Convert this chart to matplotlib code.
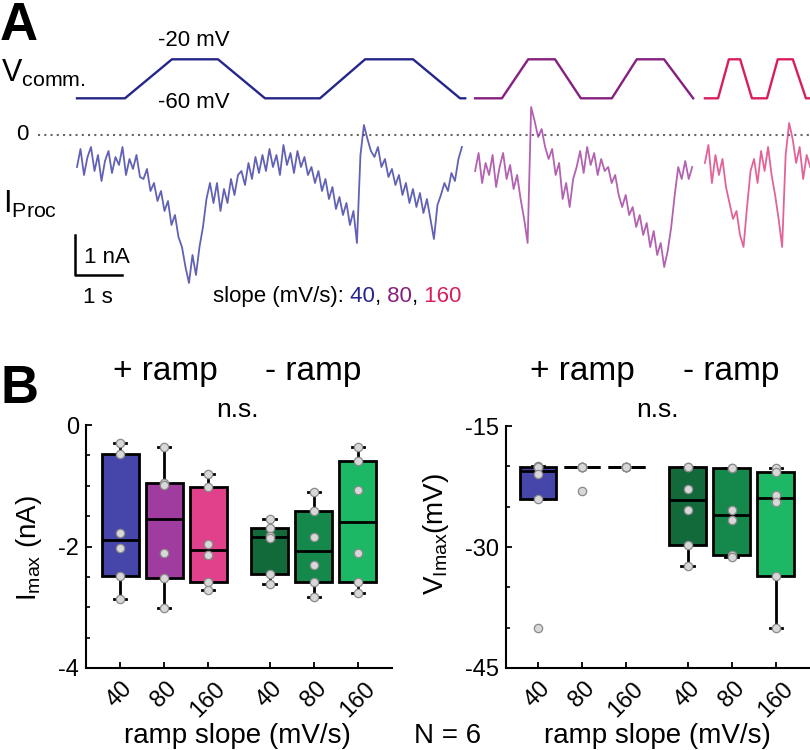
import numpy as np
import matplotlib
matplotlib.use("Agg")
import matplotlib.pyplot as plt

plt.rcParams["font.family"] = ["Liberation Sans", "DejaVu Sans"]
plt.rcParams["mathtext.fontset"] = "custom"
plt.rcParams["mathtext.rm"] = "Liberation Sans"
plt.rcParams["mathtext.it"] = "Liberation Sans:italic"
plt.rcParams["axes.unicode_minus"] = False

# ---------------- data: panel A ----------------
# voltage command breakpoints (s, mV)
vc_t_40 = [0, 1.02, 2.02, 3.0, 4.0, 5.17, 6.13, 7.15, 8.15, 8.26]
vc_v_40 = [-60, -60, -20, -20, -60, -60, -20, -20, -60, -60]
vc_t_80 = [8.47, 9.04, 9.60, 10.17, 10.72, 11.38, 11.91, 12.49, 13.11]
vc_v_80 = [-60, -60, -20, -20, -60, -60, -20, -20, -60]
vc_t_160 = [13.36, 13.64, 13.87, 14.11, 14.36, 14.68, 14.91, 15.23, 15.51, 15.60]
vc_v_160 = [-60, -60, -20, -20, -60, -60, -20, -20, -60, -60]

# current traces (nA), start / end time in s
i_span_40 = (0.0, 8.19)
i_40 = [-0.8, -0.35, -1.0, -0.55, -0.3, -0.9, -0.5, -1.15, -0.65, -0.4,
        -0.95, -0.55, -0.75, -0.3, -1.0, -0.6, -0.85, -0.5, -1.05,
        -1.1, -0.85, -1.4, -1.2, -1.65, -1.4,
        -1.9, -1.65, -2.25, -2.0, -2.55,
        -2.8, -3.3, -3.7, -3.0, -3.5, -2.8, -2.3, -1.6, -1.2,
        -1.7, -1.2, -1.9, -1.35, -1.7, -1.1, -1.5, -1.0,
        -0.9, -1.25, -0.7, -1.1, -0.55, -0.95,
        -0.5, -0.9, -0.35, -0.8, -0.5, -1.0, -0.25, -0.75, -0.45, -0.95,
        -0.4, -0.8, -0.55, -1.0,
        -0.8, -1.2, -0.9, -1.4, -1.1, -1.6, -1.3, -1.85, -1.55,
        -2.0, -1.7, -2.25, -1.9, -2.7,
        -0.5, 0.25, -0.1, -0.4,
        -0.55, -0.3, -0.8, -0.6, -1.05, -0.85,
        -1.25, -1.0, -1.5, -1.2, -1.7, -1.35, -1.8,
        -1.45, -1.95, -1.6, -2.1, -2.6, -1.75,
        -1.5, -1.2, -1.4, -0.95, -1.15, -0.6, -0.3]
i_span_80 = (8.47, 13.09)
i_80 = [-0.9, -0.45, -1.2, -0.7, -1.0, -0.5, -1.3, -0.8, -0.45, -1.1,
        -0.75, -1.35, -1.0,
        -1.6, -2.1, -2.7,
        0.7, 0.35, -0.05, 0.15, -0.3,
        -0.6, -0.35, -1.0, -0.7, -1.6, -1.2, -1.8, -1.1,
        -0.8, -0.4, -0.95, -0.3, -0.75, -0.45, -1.0, -0.6, -0.9,
        -0.8, -1.2, -1.0, -1.5, -1.8, -1.5,
        -2.0, -1.8, -2.3, -2.0, -2.5, -2.2,
        -2.8, -2.4, -3.0, -2.7, -3.3, -2.9,
        -2.3, -1.5, -0.8, -1.1,
        -0.65, -1.1, -0.8]
i_span_160 = (13.36, 15.60)
i_160 = [-0.7, -0.25, -1.2, -0.5, -1.0, -0.6,
         -1.3, -1.7, -2.1, -1.9, -2.5, -2.8,
         -1.8, -0.9,
         -0.6, -1.2, -0.4, -0.9, -0.3, -1.0,
         -1.5, -2.1, -2.8,
         -0.5, 0.3, -0.1,
         -0.7, -0.3, -1.1, -0.5, -0.8]

# ---------------- data: panel B (N = 6) ----------------
slopes = ["40", "80", "160", "40", "80", "160"]
imax = [
    [-0.29, -0.47, -1.77, -2.03, -2.49, -2.86],   # + ramp 40
    [-0.37, -0.95, -0.99, -2.10, -2.52, -3.01],   # + ramp 80
    [-0.80, -1.02, -1.96, -2.14, -2.59, -2.72],   # + ramp 160
    [-1.55, -1.70, -1.83, -1.86, -2.45, -2.61],   # - ramp 40
    [-1.11, -1.41, -1.84, -2.30, -2.59, -2.83],   # - ramp 80
    [-0.37, -0.59, -1.07, -2.11, -2.59, -2.77],   # - ramp 160
]
vimax = [
    [-19.9, -20.1, -20.1, -21.0, -24.0, -40.1],
    [-20.1, -20.1, -20.1, -20.1, -20.1, -23.0],
    [-20.1, -20.1, -20.1, -20.1, -20.1, -20.1],
    [-20.1, -20.1, -22.85, -25.4, -29.75, -32.4],
    [-20.2, -20.25, -25.4, -26.7, -31.0, -31.3],
    [-20.25, -20.75, -23.5, -24.4, -33.6, -40.1],
]

c40, c80, c160 = "#26268a", "#86207e", "#d81f5c"
tr40, tr80, tr160 = "#3a3aa4", "#a03a9e", "#dc3c80"
box_colors = ["#4646aa", "#a03ca0", "#e0418a", "#12693a", "#14894b", "#1db866"]

W, H = 810, 750
fig = plt.figure(figsize=(W / 100, H / 100), dpi=100)


def fx(x):
    return x / W


def fy(y):
    return 1 - y / H


# ---------------- panel A ----------------
rect = [0, fy(300), 1, 300 / H]
axv = fig.add_axes(rect)
axi = fig.add_axes(rect)
for a in (axv, axi):
    a.set_xlim(-77 / 47, (W - 77) / 47)
    a.axis("off")
    a.patch.set_alpha(0)
axv.set_ylim(-60 - (300 - 98.3) / 0.975, -60 + 98.3 / 0.975)
axi.set_ylim((135 - 300) / 40, 135 / 40)

axv.plot(vc_t_40, vc_v_40, color=c40, lw=1.7)
axv.plot(vc_t_80, vc_v_80, color=c80, lw=1.7)
axv.plot(vc_t_160, vc_v_160, color=c160, lw=1.7)

axi.plot([(38 - 77) / 47, (W - 77) / 47], [0, 0], ls=(0, (1, 2)), color="#666666", lw=1.5)
for span, vals, col in [(i_span_40, i_40, tr40), (i_span_80, i_80, tr80), (i_span_160, i_160, tr160)]:
    t = np.linspace(span[0], span[1], len(vals))
    axi.plot(t, vals, color=col, lw=1.3, alpha=0.8)

# scale bars 1 s / 1 nA
sb_t, sb_i = -0.04, -3.5
axi.plot([sb_t, sb_t, sb_t + 1], [sb_i + 1, sb_i, sb_i], color="black", lw=1.8)

fig.text(fx(0), fy(40), "A", fontsize=38, fontweight="bold", va="baseline")
fig.text(fx(194), fy(40), "-20 mV", fontsize=16, ha="center", va="center")
fig.text(fx(194), fy(103), "-60 mV", fontsize=16, ha="center", va="center")
fig.text(fx(1), fy(82), r"V$_{\rm comm.}$", fontsize=22, va="baseline")
fig.text(fx(22), fy(135), "0", fontsize=16, ha="center", va="center")
fig.text(fx(3), fy(213), r"I$_{\rm Proc}$", fontsize=22, va="baseline")
fig.text(fx(84), fy(263), "1 nA", fontsize=16, va="baseline")
fig.text(fx(83), fy(303), "1 s", fontsize=16, va="baseline")

renderer = fig.canvas.get_renderer()
x0 = 213
for part, col in [("slope (mV/s):", "black"), (" 40", c40), (",", "black"),
                  (" 80", c80), (",", "black"), (" 160", c160)]:
    tt = fig.text(fx(x0), fy(302), part, fontsize=16, color=col, va="baseline")
    x0 = tt.get_window_extent(renderer).x1

# ---------------- panel B ----------------
pos = [1, 2, 3, 4.4, 5.4, 6.4]


def box_panel(ax, groups):
    stats = []
    for g in groups:
        q1, med, q3 = np.percentile(g, [25, 50, 75], method="hazen")
        iqr = q3 - q1
        inside = [v for v in g if q1 - 1.5 * iqr <= v <= q3 + 1.5 * iqr]
        stats.append(dict(med=med, q1=q1, q3=q3, whislo=min(inside),
                          whishi=max(inside), fliers=[]))
    bp = ax.bxp(stats, positions=pos, widths=0.84, capwidths=0.28,
                patch_artist=True, showfliers=False,
                boxprops=dict(edgecolor="black", linewidth=2),
                medianprops=dict(color="black", linewidth=2),
                whiskerprops=dict(color="black", linewidth=2),
                capprops=dict(color="black", linewidth=2))
    for patch, c in zip(bp["boxes"], box_colors):
        patch.set_facecolor(c)
    for p, g in zip(pos, groups):
        ax.scatter([p] * len(g), g, s=36, color="#d8d8d8", edgecolors="#8a8a8a",
                   linewidths=0.9, zorder=4)
    ax.set_xticks(pos)
    ax.set_xticklabels(slopes, rotation=45, fontsize=14)
    for s in ("top", "right"):
        ax.spines[s].set_visible(False)
    for s in ("left", "bottom"):
        ax.spines[s].set_linewidth(1.5)
    ax.tick_params(direction="in", length=4, width=1.3, labelsize=17, pad=5)
    ax.tick_params(axis="x", pad=7)
    ax.tick_params(which="minor", direction="in", length=3, width=1.2)


axL = fig.add_axes([fx(86), fy(668), 306 / W, 243 / H])
box_panel(axL, imax)
axL.set_xlim(0.227, 7.18)
axL.set_ylim(-4, 0)
axL.set_yticks([0, -2, -4])
axL.set_yticks([-0.5, -1, -1.5, -2.5, -3, -3.5], minor=True)

axR = fig.add_axes([fx(506), fy(668), 304 / W, 242 / H])
box_panel(axR, vimax)
axR.set_xlim(0.273, 7.18)
axR.set_ylim(-45, -15)
axR.set_yticks([-15, -30, -45])
axR.set_yticks([-20, -25, -35, -40], minor=True)

fig.text(fx(0), fy(403), "B", fontsize=38, fontweight="bold", va="baseline")
for xc in (165, 582):
    fig.text(fx(xc), fy(380), "+ ramp", fontsize=24, ha="center", va="baseline")
for xc in (313, 731):
    fig.text(fx(xc), fy(380), "- ramp", fontsize=24, ha="center", va="baseline")
for xc in (237, 657):
    fig.text(fx(xc), fy(417), "n.s.", fontsize=19, ha="center", va="baseline")
    fig.text(fx(xc), fy(743), "ramp slope (mV/s)", fontsize=20, ha="center", va="baseline")
fig.text(fx(448), fy(743), "N = 6", fontsize=20, ha="center", va="baseline")
fig.text(fx(29), fy(548), r"I$_{\rm max}$ (nA)", fontsize=20, rotation=90,
         ha="center", va="center")
fig.text(fx(436), fy(534), r"V$_{\rm Imax}$(mV)", fontsize=20, rotation=90,
         ha="center", va="center")

fig.savefig("out.png", dpi=100)
